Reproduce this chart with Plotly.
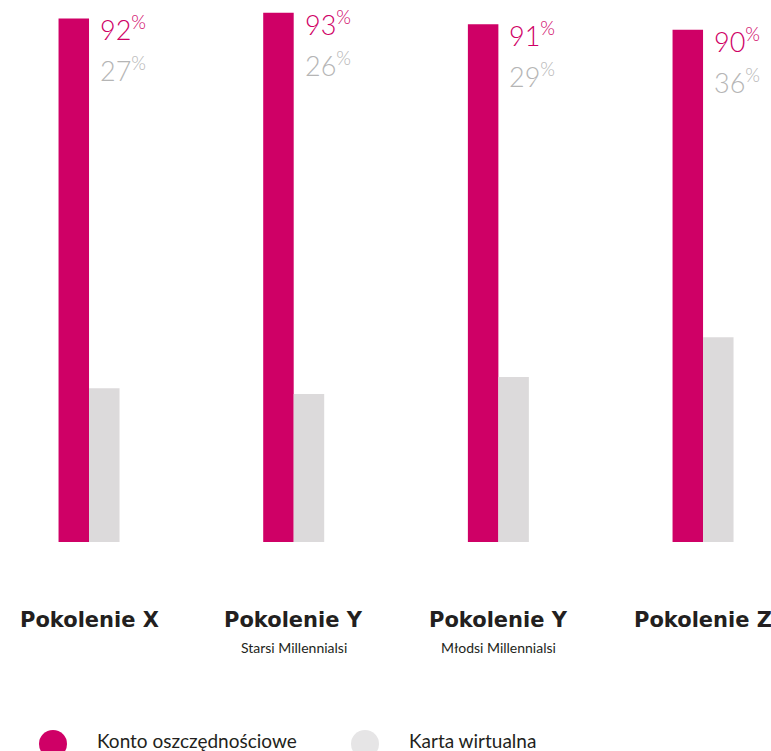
import plotly.graph_objects as go

# Survey data: share of respondents per generation
generations = ["Pokolenie X", "Pokolenie Y", "Pokolenie Y", "Pokolenie Z"]
subtitles = ["", "Starsi Millennialsi", "Młodsi Millennialsi", ""]
series_names = ["Konto oszczędnościowe", "Karta wirtualna"]
savings_account = [92, 93, 91, 90]
virtual_card = [27, 26, 29, 36]

PINK = "#CF0066"
GREY_BAR = "#DCDADB"
GREY_TEXT = "#B5B5B5"
DARK = "#231F20"
W, H = 771, 751
plot_h = 542


def py(pixel_y):
    """Paper y coordinate for a pixel row measured from the top of the page."""
    return 1 - pixel_y / plot_h


x_idx = list(range(len(generations)))

fig = go.Figure()
fig.add_trace(go.Bar(x=x_idx, y=savings_account, name=series_names[0],
                     marker=dict(color=PINK, line=dict(width=0)), showlegend=False))
fig.add_trace(go.Bar(x=x_idx, y=virtual_card, name=series_names[1],
                     marker=dict(color=GREY_BAR, line=dict(width=0)), showlegend=False))

annotations = []
num_font = dict(family="Lato", size=27, weight=300)
for i, (a, b) in enumerate(zip(savings_account, virtual_card)):
    annotations.append(dict(x=i, y=a, xref="x", yref="y", text=f"{a}<sup>%</sup>",
                            showarrow=False, xanchor="left", yanchor="middle",
                            xshift=9, yshift=-10, font=dict(num_font, color=PINK)))
    annotations.append(dict(x=i, y=a, xref="x", yref="y", text=f"{b}<sup>%</sup>",
                            showarrow=False, xanchor="left", yanchor="middle",
                            xshift=9, yshift=-51, font=dict(num_font, color=GREY_TEXT)))
    annotations.append(dict(x=i, y=py(620), xref="x", yref="paper", text=generations[i],
                            showarrow=False, xanchor="center", yanchor="middle",
                            font=dict(family="DejaVu Sans", size=21, weight=900, color=DARK)))
    if subtitles[i]:
        annotations.append(dict(x=i, y=py(647), xref="x", yref="paper", text=subtitles[i],
                                showarrow=False, xanchor="center", yanchor="middle",
                                font=dict(family="Lato", size=14, color=DARK)))

# Legend built from circles and labels along the bottom edge
shapes = []
for name, color, cx, tx in [(series_names[0], PINK, 53, 95),
                            (series_names[1], "#E6E5E6", 365, 407)]:
    shapes.append(dict(type="circle", xref="paper", yref="paper",
                       xsizemode="pixel", ysizemode="pixel",
                       xanchor=cx / W, yanchor=py(744),
                       x0=-14, x1=14, y0=-14, y1=14,
                       fillcolor=color, line=dict(width=0)))
    annotations.append(dict(x=tx / W, y=py(740), xref="paper", yref="paper",
                            text=name, showarrow=False, xanchor="left", yanchor="middle",
                            font=dict(family="Lato", size=19, color=DARK)))

fig.update_layout(
    width=W, height=H,
    margin=dict(l=0, r=0, t=0, b=H - plot_h),
    paper_bgcolor="white", plot_bgcolor="white",
    barmode="group", bargap=0.702, bargroupgap=0,
    xaxis=dict(range=[-0.435, 3.332], visible=False, fixedrange=True),
    yaxis=dict(range=[0, 95.25], visible=False, fixedrange=True),
    annotations=annotations, shapes=shapes,
    showlegend=False,
)

fig.write_html("out.html")
